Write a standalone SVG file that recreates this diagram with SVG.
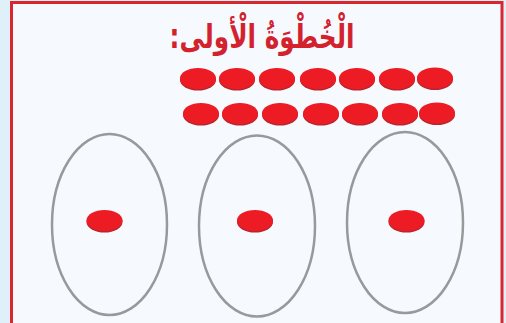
<svg xmlns="http://www.w3.org/2000/svg" width="506" height="323" viewBox="0 0 506 323">
<defs>
<style>
.bead{fill:#ed1c24}
.shade{fill:#b8252d}
.set{fill:none;stroke:#97999b;stroke-width:2.5}
.title{font-family:"DejaVu Sans","Noto Sans",sans-serif;font-size:33px;font-weight:bold;fill:#d3222e}
</style>
<g id="b">
<ellipse class="shade" cx="0" cy="1.5" rx="18" ry="10.5"/>
<ellipse class="bead" cx="0" cy="0" rx="18" ry="10.5"/>
</g>
</defs>
<rect x="0" y="0" width="506" height="323" fill="#dff0f8"/>
<rect x="11.5" y="2.5" width="490.5" height="330" fill="#f6faff" stroke="#d9262f" stroke-width="3"/>
<g id="title">
<text class="title" x="0" y="0" text-anchor="middle" direction="rtl" transform="translate(262 48) scale(0.75 1)">الْخُطْوَةُ الْأولى:</text>
</g>
<g id="beads-row1">
<use href="#b" x="198" y="78.5"/>
<use href="#b" x="237" y="78.5"/>
<use href="#b" x="277" y="78.5"/>
<use href="#b" x="318" y="78.5"/>
<use href="#b" x="357" y="78.5"/>
<use href="#b" x="397" y="78.5"/>
<use href="#b" x="435" y="78"/>
</g>
<g id="beads-row2">
<use href="#b" x="201" y="113.5"/>
<use href="#b" x="240" y="113.5"/>
<use href="#b" x="280" y="113.5"/>
<use href="#b" x="321" y="113.5"/>
<use href="#b" x="360" y="113.5"/>
<use href="#b" x="400" y="113.5"/>
<use href="#b" x="437" y="113"/>
</g>
<g id="set1">
<ellipse class="set" cx="109.5" cy="224.5" rx="57.5" ry="90.5"/>
<use href="#b" x="104.5" y="220.5"/>
</g>
<g id="set2">
<ellipse class="set" cx="257" cy="226" rx="58" ry="90.5"/>
<use href="#b" x="255" y="220.5"/>
</g>
<g id="set3">
<ellipse class="set" cx="405" cy="222.5" rx="58" ry="90.5"/>
<use href="#b" x="406.5" y="220.5"/>
</g>
<g id="connectors"></g>
</svg>
